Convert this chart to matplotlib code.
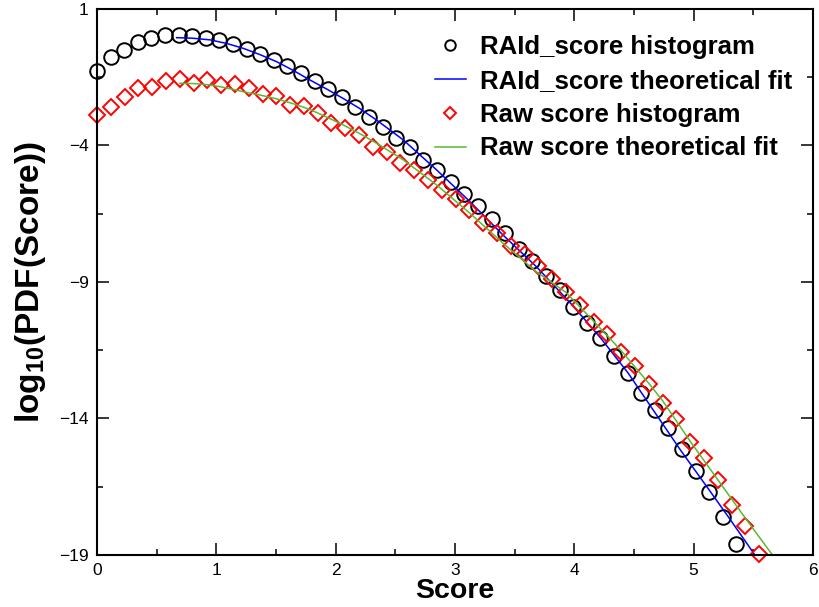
import matplotlib
matplotlib.use('Agg')
import matplotlib.pyplot as plt
from matplotlib.lines import Line2D
from matplotlib.legend_handler import HandlerLine2D
from matplotlib.ticker import MultipleLocator

plt.rcParams['font.family'] = ['Liberation Sans', 'DejaVu Sans']
plt.rcParams['mathtext.fontset'] = 'custom'
plt.rcParams['mathtext.rm'] = 'Liberation Sans'
plt.rcParams['mathtext.bf'] = 'Liberation Sans:bold'

# RAId_score histogram (circles)
raid_x = [0.000, 0.114, 0.228, 0.342, 0.456, 0.570, 0.684, 0.798, 0.912, 1.026,
          1.140, 1.254, 1.368, 1.482, 1.596, 1.710, 1.824, 1.938, 2.052, 2.166,
          2.280, 2.394, 2.508, 2.622, 2.736, 2.850, 2.964, 3.078, 3.192, 3.306,
          3.420, 3.534, 3.648, 3.762, 3.876, 3.990, 4.104, 4.218, 4.332, 4.446,
          4.560, 4.674, 4.788, 4.902, 5.016, 5.130, 5.244, 5.358]
raid_y = [-1.26, -0.77, -0.52, -0.22, -0.07, 0.03, 0.06, 0.00, -0.05, -0.13,
          -0.27, -0.45, -0.64, -0.86, -1.07, -1.36, -1.63, -1.93, -2.24, -2.58,
          -2.95, -3.32, -3.71, -4.07, -4.52, -4.90, -5.35, -5.79, -6.22, -6.69,
          -7.21, -7.80, -8.24, -8.78, -9.28, -9.91, -10.49, -11.05, -11.71, -12.33,
          -13.05, -13.68, -14.34, -15.12, -15.93, -16.68, -17.61, -18.58]

# Raw score histogram (diamonds)
raw_x = [0.000, 0.116, 0.231, 0.347, 0.462, 0.578, 0.694, 0.809, 0.925, 1.040,
         1.156, 1.272, 1.387, 1.503, 1.618, 1.734, 1.850, 1.965, 2.081, 2.196,
         2.312, 2.428, 2.543, 2.659, 2.774, 2.890, 3.006, 3.121, 3.237, 3.352,
         3.468, 3.584, 3.699, 3.815, 3.930, 4.046, 4.162, 4.277, 4.393, 4.508,
         4.624, 4.740, 4.855, 4.971, 5.086, 5.202, 5.318, 5.433, 5.549]
raw_y = [-2.88, -2.60, -2.23, -1.89, -1.87, -1.62, -1.57, -1.70, -1.60, -1.78,
         -1.75, -1.90, -2.10, -2.20, -2.51, -2.57, -2.82, -3.19, -3.35, -3.63,
         -4.06, -4.24, -4.63, -4.89, -5.27, -5.63, -5.95, -6.35, -6.85, -7.20,
         -7.67, -7.96, -8.41, -8.90, -9.36, -9.85, -10.48, -10.90, -11.56, -12.08,
         -12.75, -13.44, -14.03, -14.85, -15.46, -16.27, -17.18, -17.94, -18.98]

# theoretical fits
raid_fit_x = [0.667, 0.80, 0.946, 1.085, 1.225, 1.365, 1.505, 1.645, 1.784, 1.92,
              2.06, 2.20, 2.34, 2.565, 2.845, 3.124, 3.40, 3.68, 3.99, 4.22,
              4.45, 4.65, 4.89, 5.14, 5.29, 5.51]
raid_fit_y = [-0.05, -0.07, -0.13, -0.26, -0.44, -0.67, -0.93, -1.25, -1.60, -1.92,
              -2.27, -2.64, -3.06, -3.79, -4.89, -6.05, -7.27, -8.43, -9.88, -11.05,
              -12.33, -13.62, -15.16, -16.68, -17.60, -18.98]
raw_fit_x = [0.695, 0.80, 0.946, 1.085, 1.225, 1.365, 1.505, 1.645, 1.784, 1.92,
             2.06, 2.20, 2.34, 2.565, 2.845, 3.124, 3.40, 3.68, 3.93, 4.165,
             4.39, 4.625, 4.74, 4.97, 5.19, 5.41, 5.66]
raw_fit_y = [-1.72, -1.73, -1.78, -1.89, -2.03, -2.15, -2.29, -2.47, -2.68, -2.95,
             -3.24, -3.56, -3.91, -4.52, -5.44, -6.48, -7.57, -8.62, -9.38, -10.45,
             -11.50, -12.72, -13.35, -14.83, -16.17, -17.51, -19.0]

green = '#5cb833'


class MarkerAtEnd(HandlerLine2D):
    # put the legend marker at the right end of the handle, like the original
    def get_xdata(self, legend, xdescent, ydescent, width, height, fontsize):
        xdata, _ = super().get_xdata(legend, xdescent, ydescent, width, height, fontsize)
        return xdata, [xdata[-1]]


fig = plt.figure(figsize=(8.19, 6.07), dpi=100)
ax = fig.add_axes([97 / 819, 1 - 555 / 607, 716 / 819, 546 / 607])

ax.plot(raid_x, raid_y, 'o', mfc='none', mec='black', ms=10.5, mew=1.4,
        clip_on=False, label='RAId_score histogram')
ax.plot(raid_fit_x, raid_fit_y, '-', color='blue', lw=1.1,
        label='RAId_score theoretical fit')
ax.plot(raw_x, raw_y, 'D', mfc='none', mec='red', ms=7.8, mew=1.4,
        clip_on=False, label='Raw score histogram')
ax.plot(raw_fit_x, raw_fit_y, '-', color=green, lw=1.1,
        label='Raw score theoretical fit')

ax.set_xlim(0, 6)
ax.set_ylim(-19, 1)
ax.set_xticks(range(7))
ax.set_yticks([-19, -14, -9, -4, 1])
ax.xaxis.set_minor_locator(MultipleLocator(0.5))
ax.set_yticks([-16.5, -11.5, -6.5, -1.5], minor=True)
ax.tick_params(which='both', direction='in', top=True, right=True,
               width=1.1, labelsize=12.5, pad=6)
ax.tick_params(which='major', length=8.5)
ax.tick_params(which='minor', length=4.3)
for s in ax.spines.values():
    s.set_linewidth(1.5)

ax.set_xlabel('Score', fontsize=20.5, fontweight='bold', labelpad=0)
ax.set_ylabel(r'log$_{\mathbf{10}}$(PDF(Score))', fontsize=24,
              fontweight='bold', labelpad=8)

ax.legend(loc='upper left', bbox_to_anchor=(0.472, 0.952), frameon=False,
          prop={'weight': 'bold', 'size': 18.5}, handlelength=1.2,
          handletextpad=0.55, labelspacing=0.38, borderpad=0, borderaxespad=0,
          markerscale=0.72, handler_map={Line2D: MarkerAtEnd()})

fig.savefig('out.png', dpi=100)
